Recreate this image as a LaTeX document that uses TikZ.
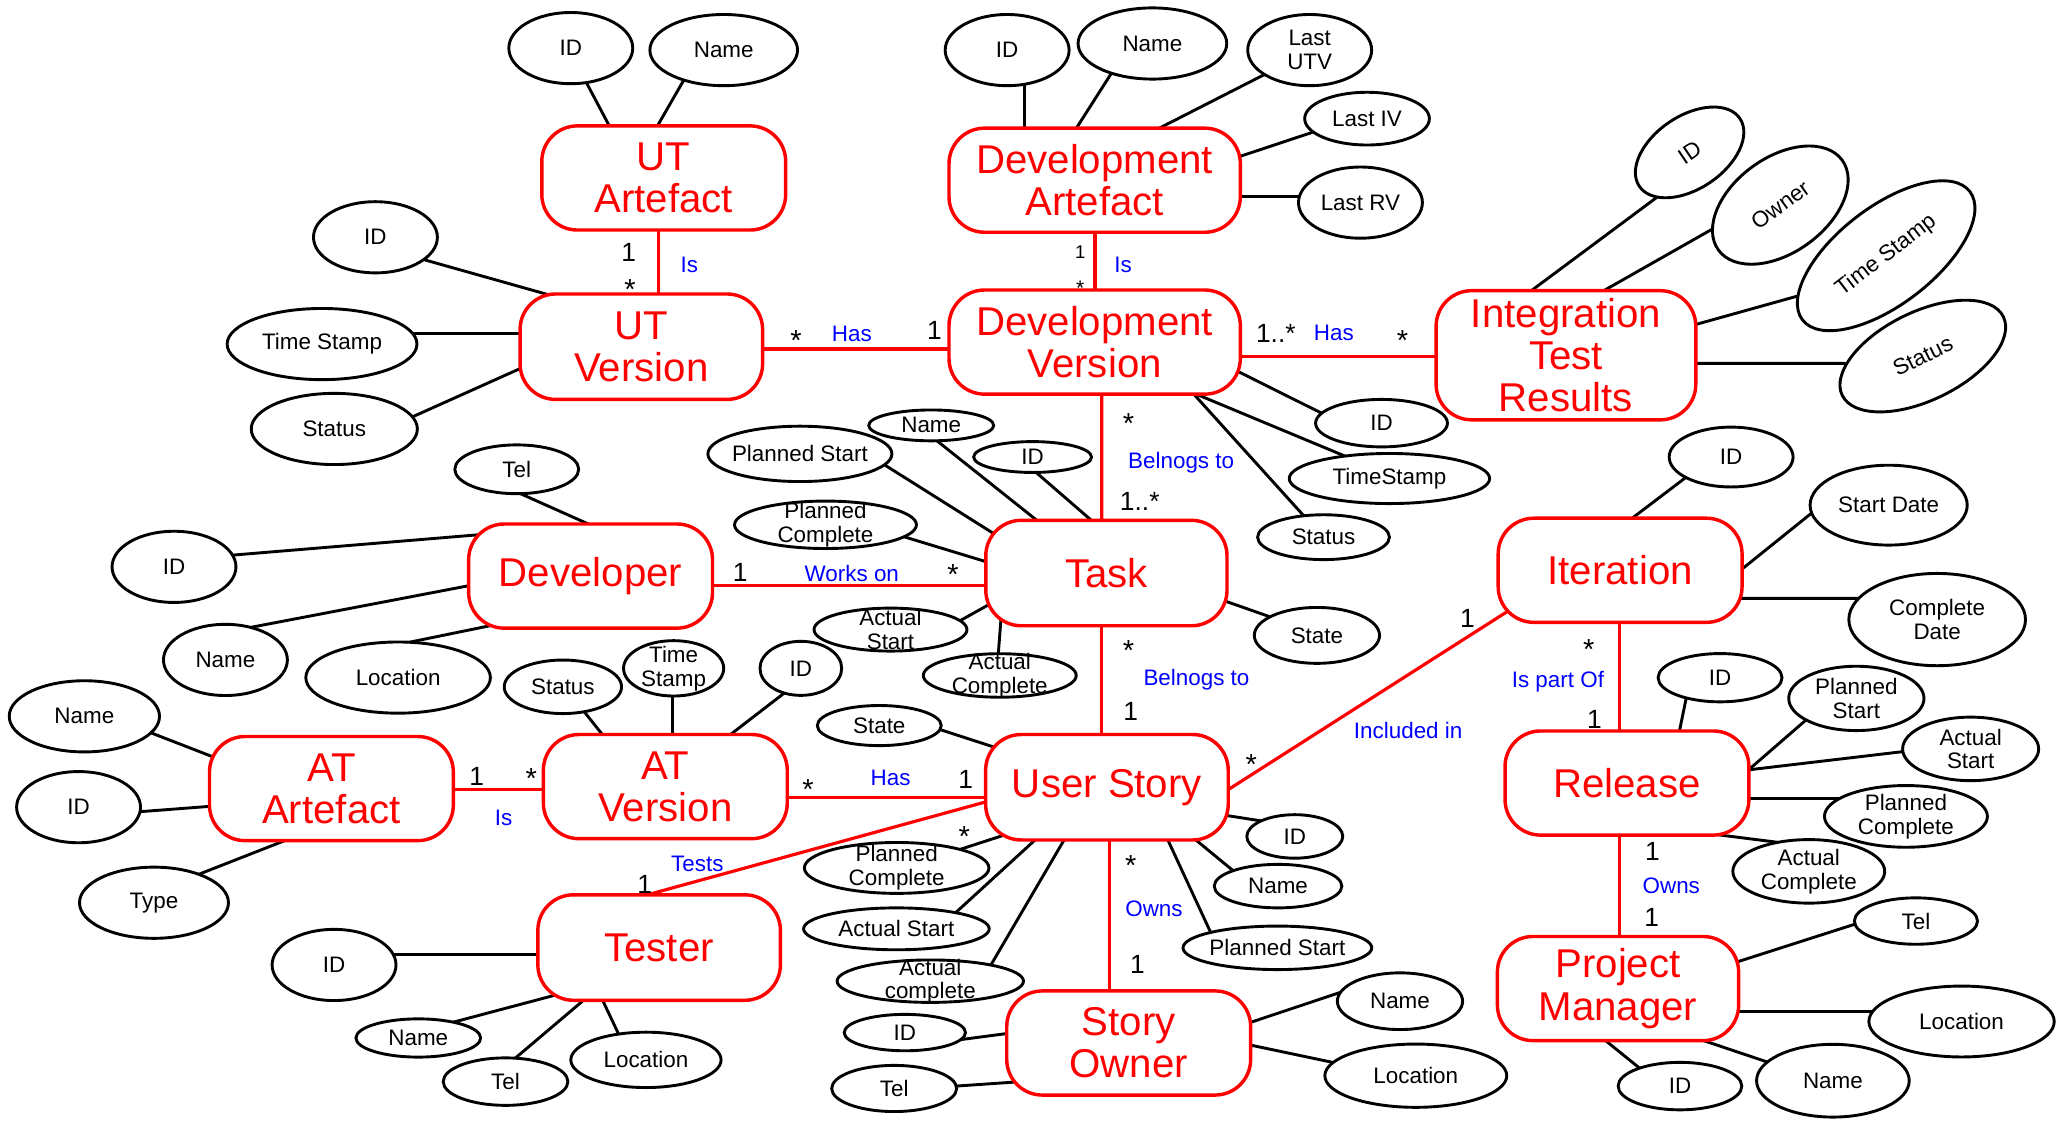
\documentclass[tikz,border=0pt]{standalone}
\usepackage{fontspec}
\setmainfont{Liberation Sans}
\usetikzlibrary{shapes.geometric,calc}
\definecolor{erred}{RGB}{255,0,0}
\definecolor{erblue}{RGB}{0,0,255}
\pgfdeclarelayer{paper}
\pgfdeclarelayer{links}
\pgfsetlayers{paper,links,main}

\tikzset{
  entity/.style={draw=erred, text=erred, line width=2.6pt, rounded corners=27pt,
    fill=white, align=center, inner sep=0pt, font=\fontsize{30.5}{32}\selectfont},
  entsize/.style 2 args={minimum width=#1, minimum height=#2},
  attr/.style={ellipse, draw=black, line width=2.2pt, fill=white, align=center,
    inner sep=-80pt, font=\fontsize{17}{18}\selectfont},
  esize/.style 2 args={minimum width={2*#1}, minimum height={2*#2}},
  attrlink/.style={draw=black, line width=2.2pt, shorten <=-3pt, shorten >=-3pt},
  rellink/.style={draw=erred, line width=2.4pt, shorten <=-3pt, shorten >=-3pt},
  role/.style={text=erblue, font=\fontsize{17}{18}\selectfont, inner sep=0pt},
  one/.style={font=\fontsize{20}{22}\selectfont, inner sep=0pt},
  smallone/.style={font=\fontsize{14}{16}\selectfont, inner sep=0pt},
  many/.style={font=\fontsize{22}{24}\selectfont, inner sep=0pt, anchor=base},
  smallmany/.style={font=\fontsize{16}{18}\selectfont, inner sep=0pt, anchor=base},
}

\begin{document}
\begin{tikzpicture}[x=1pt, y=-1pt]
\useasboundingbox (0,0) rectangle (1568,850);
\begin{pgfonlayer}{paper}
  \fill[white] (0,0) rectangle (1568,850);
\end{pgfonlayer}

% ---------- entities ----------
\node[entity, entsize={185}{79}] (utart) at (503.5,135) {UT\\Artefact};
\node[entity, entsize={184}{80}] (utver) at (486.5,263) {UT\\Version};
\node[entity, entsize={221}{79}] (devart) at (830.4,136.7) {Development\\Artefact};
\node[entity, entsize={221}{79}] (devver) at (830.4,259.5) {Development\\Version};
\node[entity, entsize={197}{98}] (itr) at (1187.9,269.5) {Integration\\Test\\Results};
\node[entity, entsize={185}{79}] (developer) at (448,437) {Developer};
\node[entity, entsize={183}{80}] (task) at (839.3,434.7) {Task};
\node[entity, entsize={185}{79}] (iteration) at (1229,432.6) {Iteration};
\node[entity, entsize={185}{79}] (atart) at (251.4,598.2) {AT\\Artefact};
\node[entity, entsize={185}{79}] (atver) at (504.7,596.7) {AT\\Version};
\node[entity, entsize={184}{80}] (story) at (839.7,597.2) {User Story};
\node[entity, entsize={185}{79}] (release) at (1234.2,594) {Release};
\node[entity, entsize={184}{80}] (tester) at (500,718.8) {Tester};
\node[entity, entsize={185}{79}] (owner) at (856.2,791.2) {Story\\Owner};
\node[entity, entsize={183}{79}] (pm) at (1227.4,749.9) {Project\\Manager};

% ---------- attributes ----------
\node[attr, esize={47}{27}] (utart-id) at (433,36.5) {ID};
\node[attr, esize={56}{27}] (utart-name) at (549,38) {Name};
\node[attr, esize={47}{27}] (utver-id) at (284.8,180) {ID};
\node[attr, esize={72}{27}] (utver-ts) at (244.3,261) {Time Stamp};
\node[attr, esize={63}{27}] (utver-st) at (253.6,325.4) {Status};

\node[attr, esize={47}{27}] (devart-id) at (764,38) {ID};
\node[attr, esize={56.4}{27}] (devart-name) at (874.2,33) {Name};
\node[attr, esize={47}{27}] (devart-utv) at (993.5,38) {Last\\UTV};
\node[attr, esize={47.3}{20}] (devart-iv) at (1037,90) {Last IV};
\node[attr, esize={47}{27}] (devart-rv) at (1032,153.7) {Last RV};

\node[attr, esize={50}{18}] (devver-id) at (1048,321) {ID};
\node[attr, esize={76}{19}] (devver-ts) at (1054,363) {TimeStamp};
\node[attr, esize={50}{17}] (devver-st) at (1004,407.5) {Status};

\node[attr, esize={46}{27.6}, rotate=34] (itr-id) at (1281.7,115.6) {ID};
\node[attr, esize={58}{36}, rotate=36] (itr-owner) at (1350.5,155.6) {Owner};
\node[attr, esize={80}{37}, rotate=37.5] (itr-ts) at (1430.8,194) {Time Stamp};
\node[attr, esize={68}{33.5}, rotate=26] (itr-st) at (1458.6,270.1) {Status};

\node[attr, esize={47}{18.5}] (dev-tel) at (392,356) {Tel};
\node[attr, esize={47}{27}] (dev-id) at (132,430) {ID};
\node[attr, esize={47}{27}] (dev-name) at (171,500.6) {Name};
\node[attr, esize={70}{27}] (dev-loc) at (302,514) {Location};

\node[attr, esize={47.4}{11.7}] (task-name) at (706.4,322.7) {Name};
\node[attr, esize={69.8}{21}] (task-ps) at (606.8,344.3) {Planned Start};
\node[attr, esize={44.7}{11.7}] (task-id) at (783.3,346.7) {ID};
\node[attr, esize={69}{18}] (task-pc) at (626.2,398.1) {Planned\\Complete};
\node[attr, esize={58}{16.3}] (task-as) at (675.5,477.6) {Actual\\Start};
\node[attr, esize={58}{16.5}] (task-ac) at (758.4,512.4) {Actual\\Complete};
\node[attr, esize={47.5}{21.2}] (task-state) at (999,482) {State};

\node[attr, esize={57}{27}] (atart-name) at (64,543.4) {Name};
\node[attr, esize={47}{27}] (atart-id) at (59.6,612.3) {ID};
\node[attr, esize={56.5}{27}] (atart-type) at (116.8,684.8) {Type};

\node[attr, esize={44.5}{20.3}] (atver-st) at (427,521) {Status};
\node[attr, esize={38}{21}] (atver-ts) at (511,507) {Time\\Stamp};
\node[attr, esize={31}{20.5}] (atver-id) at (607.5,507) {ID};

\node[attr, esize={47}{15.2}] (us-state) at (667,550.4) {State};
\node[attr, esize={70}{19.3}] (us-pc) at (680.2,658.4) {Planned\\Complete};
\node[attr, esize={70.4}{15.9}] (us-as) at (680,704.6) {Actual Start};
\node[attr, esize={70.7}{16.1}] (us-ac) at (705.7,744.3) {Actual\\complete};
\node[attr, esize={36.4}{16.5}] (us-id) at (982.2,634.5) {ID};
\node[attr, esize={48.4}{16.5}] (us-name) at (969.5,672.2) {Name};
\node[attr, esize={71.6}{16.5}] (us-ps) at (969,719) {Planned Start};

\node[attr, esize={47}{27}] (tester-id) at (253.4,732) {ID};
\node[attr, esize={47.3}{14.5}] (tester-name) at (317.3,787.4) {Name};
\node[attr, esize={47.3}{18}] (tester-tel) at (383.5,820.5) {Tel};
\node[attr, esize={57}{21}] (tester-loc) at (490,804) {Location};

\node[attr, esize={46}{13.8}] (so-id) at (686.4,783.3) {ID};
\node[attr, esize={47.4}{17.5}] (so-tel) at (678.3,825.7) {Tel};
\node[attr, esize={47.5}{21.5}] (so-name) at (1062,759.5) {Name};
\node[attr, esize={69}{24}] (so-loc) at (1074,816) {Location};

\node[attr, esize={47}{22.7}] (it-id) at (1313.2,346.7) {ID};
\node[attr, esize={59.6}{30.3}] (it-sd) at (1432.7,383.2) {Start Date};
\node[attr, esize={67}{35}] (it-cd) at (1469.5,470) {Complete\\Date};

\node[attr, esize={47}{18.3}] (rel-id) at (1304.8,514.1) {ID};
\node[attr, esize={51.3}{24.4}] (rel-ps) at (1408.2,529.8) {Planned\\Start};
\node[attr, esize={51.6}{24.1}] (rel-as) at (1494.9,568.1) {Actual\\Start};
\node[attr, esize={61.8}{23.4}] (rel-pc) at (1445.8,619.3) {Planned\\Complete};
\node[attr, esize={57.6}{24.1}] (rel-ac) at (1372.1,661) {Actual\\Complete};

\node[attr, esize={46.7}{17.6}] (pm-tel) at (1453.4,698.7) {Tel};
\node[attr, esize={70.3}{26.9}] (pm-loc) at (1488,774.9) {Location};
\node[attr, esize={46.9}{18}] (pm-id) at (1274.4,823.9) {ID};
\node[attr, esize={57.9}{27.6}] (pm-name) at (1390.4,819.8) {Name};

% ---------- connectors (behind the shapes) ----------
\begin{pgfonlayer}{links}
% attribute links
\draw[attrlink] ($(utart-id)+(12,26.5)$) -- ($(utart)+(-40.5,-38)$);
\draw[attrlink] ($(utart-name)+(-31,24)$) -- ($(utart)+(-4.5,-40)$);
\draw[attrlink] ($(utver-id)+(36.9,17)$) -- ($(utver)+(-66.5,-38.3)$);
\draw[attrlink] ($(utver-ts)+(69.7,-8)$) -- ($(utver)+(-89.5,-10)$);
\draw[attrlink] ($(utver-st)+(62,-10.4)$) -- ($(utver)+(-89.5,15.5)$);

\draw[attrlink] ($(devart-id)+(13.5,26.8)$) -- ($(devart)+(-52.9,-38.8)$);
\draw[attrlink] ($(devart-name)+(-31.7,23.5)$) -- ($(devart)+(-14.3,-38.8)$);
\draw[attrlink] ($(devart-utv)+(-35.8,19.3)$) -- ($(devart)+(47.7,-38.8)$);
\draw[attrlink] ($(devart-iv)+(-42.1,10.6)$) -- ($(devart)+(110.3,-18.1)$);
\draw[attrlink] ($(devart-rv)+(-43.9,-4.8)$) -- ($(devart)+(110.3,12.2)$);

\draw[attrlink] ($(devver-id)+(-46.3,-8)$) -- ($(devver)+(110.4,23.1)$);
\draw[attrlink] ($(devver-ts)+(-33.7,-17)$) -- ($(devver)+(74.1,38.3)$);
\draw[attrlink] ($(devver-st)+(-14.8,-16)$) -- ($(devver)+(74.1,38.3)$);

\draw[attrlink] ($(itr-id)+(-23.5,33.1)$) -- ($(itr)+(-26.4,-48.9)$);
\draw[attrlink] ($(itr-owner)+(-52.3,18.6)$) -- ($(itr)+(28.5,-48.9)$);
\draw[attrlink] ($(itr-ts)+(-67.6,30.7)$) -- ($(itr)+(97.6,-23.1)$);
\draw[attrlink] ($(itr-st)+(-61.5,5.6)$) -- ($(itr)+(97.6,6.2)$);

\draw[attrlink] ($(dev-tel)+(0.8,17.6)$) -- ($(developer)+(-1,-39.2)$);
\draw[attrlink] ($(dev-id)+(45.8,-9)$) -- ($(developer)+(-80.6,-31.7)$);
\draw[attrlink] ($(dev-name)+(20.3,-24.9)$) -- ($(developer)+(-90.8,7)$);
\draw[attrlink] ($(dev-loc)+(9.5,-27)$) -- ($(developer)+(-75.5,37.5)$);

\draw[attrlink] ($(task-name)+(5.1,12.3)$) -- ($(task)+(-49.9,-37.7)$);
\draw[attrlink] ($(task-ps)+(65.4,9.1)$) -- ($(task)+(-82.4,-28)$);
\draw[attrlink] ($(task-id)+(3.4,12.3)$) -- ($(task)+(-11.3,-39.9)$);
\draw[attrlink] ($(task-pc)+(60.6,9.4)$) -- ($(task)+(-91.6,-8.7)$);
\draw[attrlink] ($(task-as)+(50.2,-5.3)$) -- ($(task)+(-85.5,21.9)$);
\draw[attrlink] ($(task-ac)+(-1.2,-15.2)$) -- ($(task)+(-79.7,31.3)$);
\draw[attrlink] ($(task-state)+(-36.2,-14.3)$) -- ($(task)+(89.6,21.1)$);

\draw[attrlink] ($(atart-name)+(51.8,13)$) -- ($(atart)+(-87.9,-23.3)$);
\draw[attrlink] ($(atart-id)+(47.1,3.4)$) -- ($(atart)+(-91.2,13.4)$);
\draw[attrlink] ($(atart-type)+(35.6,-22.2)$) -- ($(atart)+(-35.7,39.6)$);

\draw[attrlink] ($(atver-st)+(17.3,20.3)$) -- ($(atver)+(-47.7,-39.4)$);
\draw[attrlink] ($(atver-ts)+(-0.7,20.5)$) -- ($(atver)+(5.6,-40.3)$);
\draw[attrlink] ($(atver-id)+(-13.8,19.7)$) -- ($(atver)+(49.3,-39.4)$);

\draw[attrlink] ($(us-state)+(46.9,3.3)$) -- ($(story)+(-80.8,-28.9)$);
\draw[attrlink] ($(us-pc)+(51.3,-15.1)$) -- ($(story)+(-74,35)$);
\draw[attrlink] ($(us-as)+(46.4,-13.6)$) -- ($(story)+(-53,38.6)$);
\draw[attrlink] ($(us-ac)+(47.1,-14.2)$) -- ($(story)+(-31.7,38.6)$);
\draw[attrlink] ($(us-id)+(-26.2,-11.9)$) -- ($(story)+(89.9,21.3)$);
\draw[attrlink] ($(us-name)+(-34.9,-12.4)$) -- ($(story)+(64.8,37.8)$);
\draw[attrlink] ($(us-ps)+(-50.9,-12.3)$) -- ($(story)+(45.2,37.8)$);

\draw[attrlink] ($(tester-id)+(46.3,-8.2)$) -- ($(tester)+(-91,5)$);
\draw[attrlink] ($(tester-name)+(28.1,-12.4)$) -- ($(tester)+(-74,34.8)$);
\draw[attrlink] ($(tester-tel)+(7.5,-17.9)$) -- ($(tester)+(-57,39.7)$);
\draw[attrlink] ($(tester-loc)+(-21,-20.1)$) -- ($(tester)+(-43,39.7)$);

\draw[attrlink] ($(so-id)+(42.7,5.3)$) -- ($(owner)+(-91.5,-7.3)$);
\draw[attrlink] ($(so-tel)+(46.7,-1.8)$) -- ($(owner)+(-81.4,29.3)$);
\draw[attrlink] ($(so-name)+(-43.4,-7.3)$) -- ($(owner)+(92.3,-15.6)$);
\draw[attrlink] ($(so-loc)+(-65.5,-10.6)$) -- ($(owner)+(92,1.5)$);

\draw[attrlink] ($(it-id)+(-34.9,15.9)$) -- ($(iteration)+(9.4,-39.7)$);
\draw[attrlink] ($(it-sd)+(-56.2,4.2)$) -- ($(iteration)+(91.7,-0.3)$);
\draw[attrlink] ($(it-cd)+(-58.5,-16.1)$) -- ($(iteration)+(88.9,21.3)$);

\draw[attrlink] ($(rel-id)+(-25.8,16.1)$) -- ($(release)+(39.8,-39.5)$);
\draw[attrlink] ($(rel-ps)+(-39.5,17.5)$) -- ($(release)+(92.2,-10)$);
\draw[attrlink] ($(rel-as)+(-51.7,2.1)$) -- ($(release)+(92.2,-10)$);
\draw[attrlink] ($(rel-pc)+(-49.3,-13.8)$) -- ($(release)+(91.2,11.5)$);
\draw[attrlink] ($(rel-ac)+(-26.4,-22.4)$) -- ($(release)+(71.9,39.6)$);

\draw[attrlink] ($(pm-tel)+(-46.7,2.5)$) -- ($(pm)+(90.6,-20.3)$);
\draw[attrlink] ($(pm-loc)+(-68.5,-7.6)$) -- ($(pm)+(91.6,17.4)$);
\draw[attrlink] ($(pm-id)+(-31,-13.9)$) -- ($(pm)+(-9.4,39.5)$);
\draw[attrlink] ($(pm-name)+(-50.4,-14.4)$) -- ($(pm)+(63.5,39)$);

% relationship links
\draw[rellink] ($(utart)+(-4.1,39.5)$) -- ($(utver)+(12.9,-40)$);
\draw[rellink] ($(utver)+(91.9,1.7)$) -- ($(devver)+(-110.4,5.2)$);
\draw[rellink] ($(devart)+(0.3,39.5)$) -- ($(devver)+(0.3,-39.5)$);
\draw[rellink] ($(devver)+(110.3,11.2)$) -- ($(itr)+(-98.5,1.2)$);
\draw[rellink] ($(devver)+(5.4,39.5)$) -- ($(task)+(-3.5,-40)$);
\draw[rellink] ($(developer)+(92.2,7)$) -- ($(task)+(-91.6,9.3)$);
\draw[rellink] ($(task)+(-3.5,40)$) -- ($(story)+(-3.9,-40)$);
\draw[rellink] ($(atart)+(92.3,1)$) -- ($(atver)+(-92.3,2.5)$);
\draw[rellink] ($(atver)+(92.3,8)$) -- ($(story)+(-92,7.5)$);
\draw[rellink] ($(story)+(-88.6,10.2)$) -- ($(tester)+(-9,-40)$);
\draw[rellink] ($(story)+(1.8,40)$) -- ($(owner)+(-14.7,-39.6)$);
\draw[rellink] ($(story)+(90.9,2.5)$) -- ($(iteration)+(-83.7,30.1)$);
\draw[rellink] ($(iteration)+(-0.8,39.7)$) -- ($(release)+(-6,-39.5)$);
\draw[rellink] ($(release)+(-6,39.5)$) -- ($(pm)+(0.8,-39.6)$);
\end{pgfonlayer}

% ---------- multiplicities and role names ----------
\node[one] (m-utart) at (477,191.6) {1};
\node[many] (m-utver) at (478,227.3) {*};
\node[role] (r-utis) at (523,201) {Is};

\node[many] (m-uthas) at (603.8,265.8) {*};
\node[role] (r-uthas) at (646.2,253.6) {Has};
\node[one] (m-dvhas) at (708.8,250.9) {1};

\node[smallone] (m-devart) at (819.5,191.6) {1};
\node[smallmany] (m-devver) at (819.5,223.8) {*};
\node[role] (r-devis) at (852,201) {Is};

\node[one] (m-dvitr) at (967.8,253) {1..*};
\node[role] (r-itrhas) at (1011.8,252.3) {Has};
\node[many] (m-itr) at (1064,265.8) {*};

\node[many] (m-dvtask) at (856.1,328.5) {*};
\node[role] (r-taskdv) at (896,350.7) {Belnogs to};
\node[one] (m-taskdv) at (864.6,380.5) {1..*};

\node[one] (m-devwork) at (561.5,434.3) {1};
\node[role] (r-works) at (646.2,435.1) {Works on};
\node[many] (m-taskwork) at (723,443.2) {*};

\node[many] (m-taskus) at (856.1,501.1) {*};
\node[role] (r-taskus) at (907.6,515.6) {Belnogs to};
\node[one] (m-ustask) at (857.8,539.9) {1};

\node[one] (m-atart) at (361.6,588.7) {1};
\node[many] (m-atver) at (403,598.2) {*};
\node[role] (r-atis) at (382,620.7) {Is};

\node[many] (m-athas) at (613,606.5) {*};
\node[role] (r-athas) at (675.6,590.3) {Has};
\node[one] (m-usathas) at (732.5,590.9) {1};

\node[role] (r-tests) at (529,655) {Tests};
\node[one] (m-tester) at (489,670.8) {1};
\node[many] (m-ustests) at (731.5,641.8) {*};

\node[many] (m-usowns) at (857.8,664.3) {*};
\node[role] (r-usowns) at (875.4,689.6) {Owns};
\node[one] (m-owner) at (862.9,731.5) {1};

\node[many] (m-usinc) at (949.2,587.2) {*};
\node[role] (r-inc) at (1068.2,554.5) {Included in};
\node[one] (m-itinc) at (1113.1,469) {1};

\node[many] (m-itpart) at (1205.2,500.3) {*};
\node[role] (r-part) at (1181.8,517) {Is part Of};
\node[one] (m-relpart) at (1209.6,545.4) {1};

\node[one] (m-relowns) at (1253.6,646) {1};
\node[role] (r-pmowns) at (1267.8,672.2) {Owns};
\node[one] (m-pmowns) at (1252.9,695.7) {1};
\end{tikzpicture}
\end{document}
